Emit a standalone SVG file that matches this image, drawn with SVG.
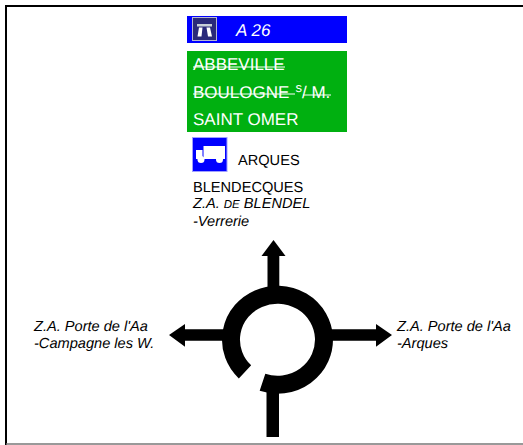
<svg xmlns="http://www.w3.org/2000/svg" width="523" height="445" viewBox="0 0 523 445">
<style>
text{font-family:"Liberation Sans",Arial,sans-serif;font-size:14.6px;fill:#000;text-rendering:geometricPrecision}
.i{font-style:italic}
.w{fill:#fff;font-size:17px}
.s{stroke:#fff;stroke-width:1;fill:none}
.k{stroke:#000;fill:none;stroke-width:18}
.a{fill:#000}
</style>
<rect width="523" height="445" fill="#fff"/>
<path d="M6 445V6H523" fill="none" stroke="#000" stroke-width="2"/>
<path d="M6 444H523" fill="none" stroke="#777" stroke-width="1.500"/>
<g id="motorway">
<rect x="187" y="16" width="160" height="27" fill="#0000ff"/>
<rect x="192.500" y="17.500" width="24" height="23" fill="#2a2a7a" stroke="#b8b8d0"/>
<path d="M197 24h15v2.500h-15z" fill="#c8d0d8"/>
<path d="M199 27.500h3.500l-1 9h-4zM206.500 27.500h3.500l2 9h-4z" fill="#fff"/>
<text x="236" y="36" class="i" style="fill:#fff;font-size:17px">A 26</text>
</g>
<g id="directions">
<rect x="187" y="51" width="160" height="81" fill="#00b010"/>
<text x="193" y="70" class="w">ABBEVILLE</text>
<path class="s" d="M193 67h92"/>
<text x="193" y="97.500" class="w">BOULOGNE</text>
<text x="295.500" y="92" style="fill:#fff;font-size:13px">s</text>
<text x="302" y="97.500" class="w">/ M.</text>
<path class="s" d="M193 94h102M303 95h28"/>
<text x="193" y="125" class="w">SAINT OMER</text>
</g>
<g id="truck">
<rect x="192.500" y="137.500" width="34.500" height="34" fill="#0000ff" stroke="#a0a0ff"/>
<path d="M203.500 146h21.500v13h-21.500zM196 150h6.500v9h-6.500z" fill="#fff"/>
<circle cx="201" cy="159.500" r="3.500" fill="#fff"/><circle cx="219.500" cy="159.500" r="3.500" fill="#fff"/>
<text x="238" y="165">ARQUES</text>
</g>
<g id="north-label">
<text x="193" y="191.500">BLENDECQUES</text>
<text x="193" y="208" class="i">Z.A. <tspan font-size="11.500">DE</tspan> BLENDEL</text>
<text x="193" y="225.500" class="i">-Verrerie</text>
</g>
<g id="west-label">
<text x="34" y="331" class="i">Z.A. Porte de l'Aa</text>
<text x="34" y="348" class="i">-Campagne les W.</text>
</g>
<g id="east-label">
<text x="397" y="331" class="i">Z.A. Porte de l'Aa</text>
<text x="397" y="348" class="i">-Arques</text>
</g>
<g id="connectors">
<path class="a" d="M273.500 240L285.500 256H279.300V290H267.500V256H261.500Z"/>
<path class="a" d="M169 335L185 324V329.300H225V340.700H185V346.700Z"/>
<path class="a" d="M392 335L376 324V329.300H330V340.700H376V346.700Z"/>
<path class="a" d="M266.500 385H279V437H266.500Z"/>
<path class="k" d="M245 371.900A46.500 45 0 1 1 262.500 382.300"/>
</g>
</svg>
